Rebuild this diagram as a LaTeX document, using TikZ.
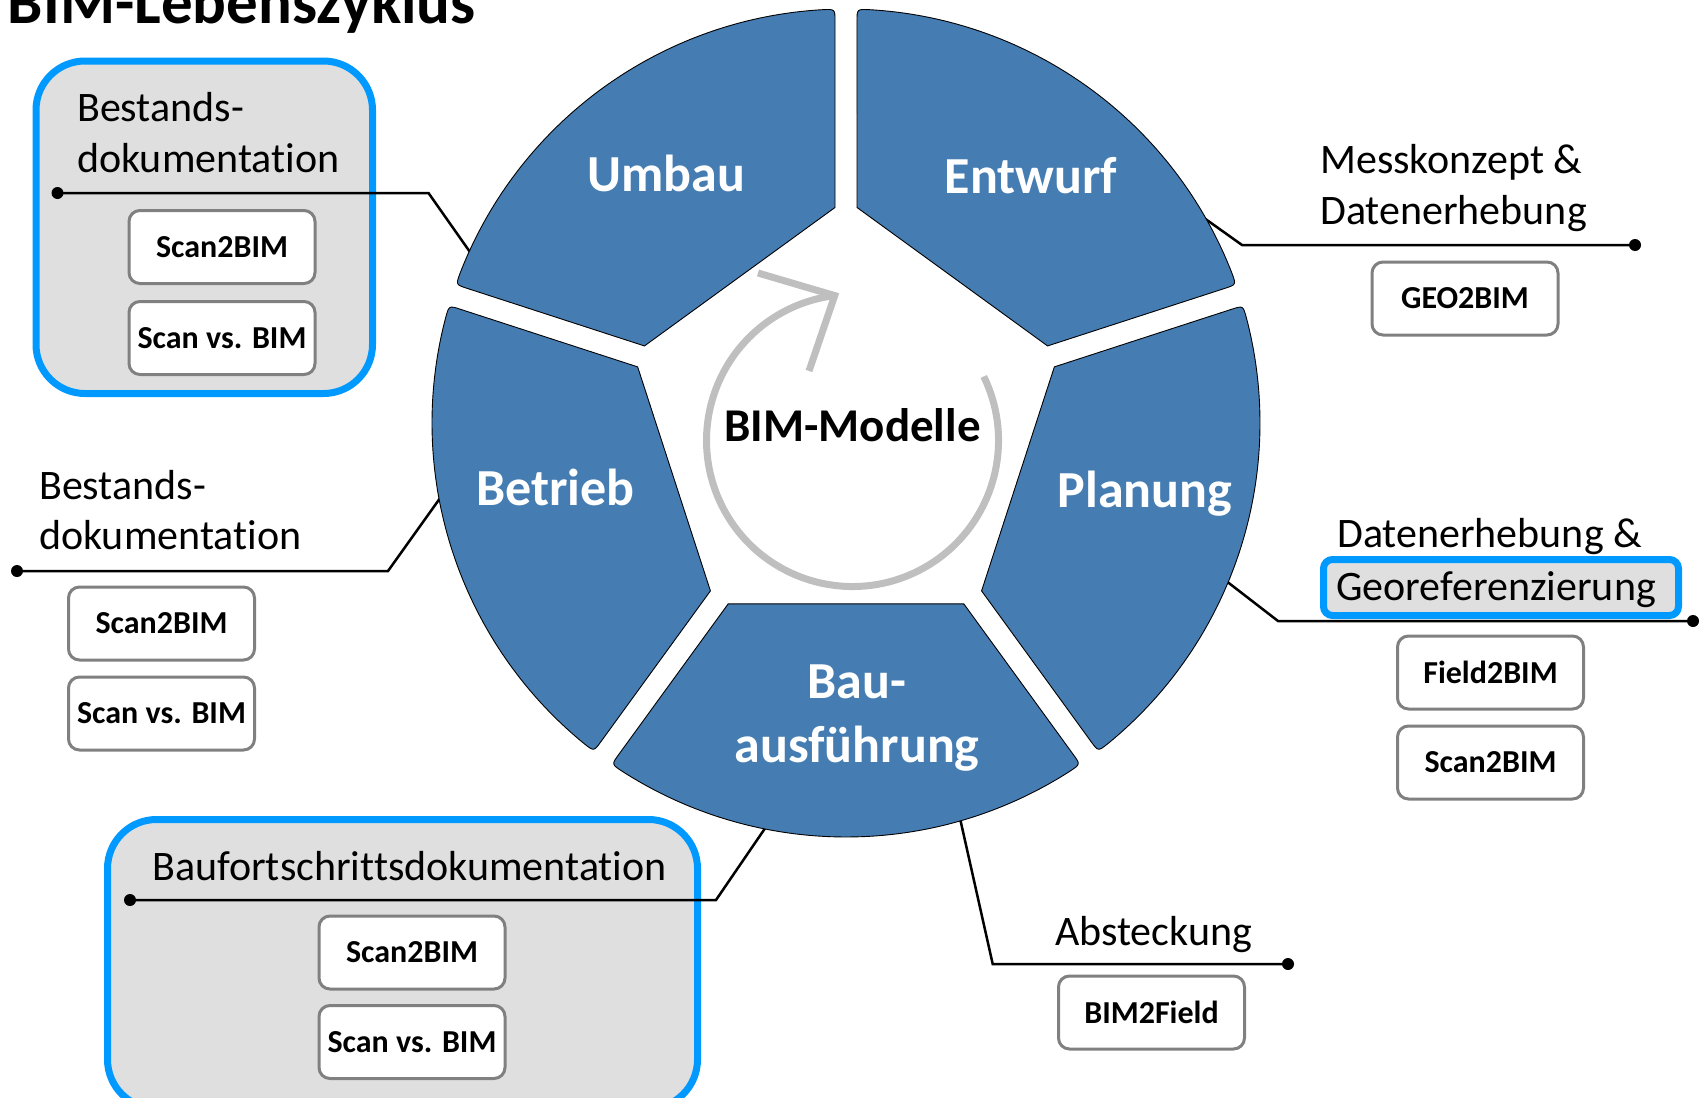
\documentclass[tikz,border=0pt]{standalone}
\usepackage{fontspec}
\setmainfont{Carlito}[Ligatures=NoCommon]
\usetikzlibrary{calc}

\definecolor{segblue}{RGB}{69,125,179}
\definecolor{grpblue}{RGB}{0,153,255}
\definecolor{grpgray}{RGB}{223,223,223}
\definecolor{toolgray}{RGB}{128,128,128}
\definecolor{cyclegray}{RGB}{191,191,191}

% one ring segment between the pentagon corners at angles #1 and #2
\newcommand\wheelpart[3]{%
  \coordinate (#3-va) at ($(C)+(#1:\wRin)$);
  \coordinate (#3-vb) at ($(C)+(#2:\wRin)$);
  \coordinate (#3-p1) at ($(#3-va)!13.6pt!(#3-vb)$);
  \coordinate (#3-p4) at ($(#3-vb)!13.6pt!(#3-va)$);
  \coordinate (#3-p2) at ($(C)+({#1+\wDl}:\wRout)$);
  \coordinate (#3-p3) at ($(C)+({#2-\wDl}:\wRout)$);
  \coordinate (#3-q1) at ($(#3-p2)!12pt!(#3-p1)$);
  \coordinate (#3-q2) at ($(C)+({#1+\wDl+\wEp}:\wRout)$);
  \coordinate (#3-q4) at ($(#3-p3)!12pt!(#3-p4)$);
  \draw[seg] (#3-p1) -- (#3-q1) .. controls (#3-p2) .. (#3-q2)
    arc[start angle={#1+\wDl+\wEp}, end angle={#2-\wDl-\wEp}, radius=\wRout]
    .. controls (#3-p3) .. (#3-q4) -- (#3-p4) -- cycle;
}

\tikzset{
  seg/.style={fill=segblue, draw=black, line width=0.9pt},
  seglabel/.style={text=white, font=\bfseries\fontsize{52}{62}\selectfont, anchor=base, inner sep=0pt},
  centerlbl/.style={text=black, font=\bfseries\fontsize{47}{56}\selectfont, anchor=base, inner sep=0pt},
  titlelbl/.style={font=\bfseries\fontsize{63}{76}\selectfont, anchor=base west, inner sep=0pt},
  lbl/.style={font=\fontsize{42}{51}\selectfont, anchor=base west, inner sep=0pt},
  tool/.style={draw=toolgray, line width=3pt, fill=white, rounded corners=11pt,
    minimum width=186pt, minimum height=73pt, inner sep=0pt,
    font=\bfseries\fontsize{32}{38}\selectfont},
  group/.style={draw=grpblue, line width=7pt, fill=grpgray, rounded corners=49pt},
  georef/.style={draw=grpblue, line width=7pt, fill=grpgray, rounded corners=9pt},
  conn/.style={line width=2.5pt, black},
  dot/.style={circle, fill=black, inner sep=0pt, minimum size=12pt},
  cyc/.style={draw=cyclegray, line width=7pt},
}

\begin{document}
\begin{tikzpicture}[x=1pt, y=1pt]
\useasboundingbox (0,0) rectangle (1701,-1098);
\clip (0,0) rectangle (1701,-1098);

% wheel geometry
\def\wRin{223.5}
\def\wRout{414}
\def\wDl{1.52}
\def\wEp{1.66}
\coordinate (C) at (846,-423);

% grouped documentation fields
\draw[group] (36,-61) rectangle (372.5,-393.5);
\draw[group] (107.5,-819.5) rectangle (697.5,-1108.5);
\draw[georef] (1323.5,-559.5) rectangle (1678.5,-615.5);

% end dots, bends and attachment points of the leader lines
\node[dot] (dTL) at (57.5,-193) {};
\coordinate (bTL) at (428.5,-193);
\coordinate (aTL) at ($(C)+(155.8:410)$);

\node[dot] (dLM) at (17,-571) {};
\coordinate (bLM) at (388,-571);
\coordinate (aLM) at ($(C)+(190.1:410)$);

\node[dot] (dBL) at (130,-900) {};
\coordinate (bBL) at (716,-900);
\coordinate (aBL) at ($(C)+(258.9:410)$);

\node[dot] (dTR) at (1635,-245) {};
\coordinate (bTR) at (1242,-245);
\coordinate (aTR) at ($(C)+(30.6:410)$);

\node[dot] (dRM) at (1693,-621) {};
\coordinate (bRM) at (1278,-621);
\coordinate (aRM) at ($(C)+(-22.5:410)$);

\node[dot] (dBR) at (1288,-964) {};
\coordinate (bBR) at (992.7,-964);
\coordinate (aBR) at ($(C)+(-73.9:410)$);

\draw[conn] (dTL.center) -- (bTL) -- (aTL);
\draw[conn] (dLM.center) -- (bLM) -- (aLM);
\draw[conn] (dBL.center) -- (bBL) -- (aBL);
\draw[conn] (dTR.center) -- (bTR) -- (aTR);
\draw[conn] (dRM.center) -- (bRM) -- (aRM);
\draw[conn] (dBR.center) -- (bBR) -- (aBR);

% circular arrow in the middle
\coordinate (cc) at (852.5,-440.5);
\coordinate (cycStart) at ($(cc)+(26:146)$);
\coordinate (cycTip) at ($(cc)+(97:146)$);
\coordinate (cycArmA) at (758,-273);
\coordinate (cycArmB) at (809,-371);
\draw[cyc] (cycStart) arc[start angle=26, end angle=-263, radius=146];
\draw[cyc, line join=miter] (cycArmA) -- (cycTip) -- (cycArmB);

% ring segments
\wheelpart{18}{90}{entwurf}
\wheelpart{90}{162}{umbau}
\wheelpart{162}{234}{betrieb}
\wheelpart{234}{306}{bau}
\wheelpart{-54}{18}{planung}

\node[seglabel] (lUmbau) at (666.5,-191) {Umbau};
\node[seglabel] (lEntwurf) at (1031,-193) {Entwurf};
\node[seglabel] (lBetrieb) at (555.5,-505) {Betrieb};
\node[seglabel] (lPlanung) at (1145,-507) {Planung};
\node[seglabel] (lBau1) at (857,-698) {Bau-};
\node[seglabel] (lBau2) at (857,-762) {ausführung};
\node[centerlbl] (lBIM) at (852.5,-441) {BIM-Modelle};

% title
\node[titlelbl] (title) at (7.7,-23) {BIM-Lebenszyklus};

% field labels
\node[lbl] (tl1) at (77,-121) {Bestands-};
\node[lbl] (tl2) at (77,-172) {dokumentation};
\node[lbl] (lm1) at (39,-499) {Bestands-};
\node[lbl] (lm2) at (39,-549.5) {dokumentation};
\node[lbl] (bl1) at (152,-880) {Baufortschrittsdokumentation};
\node[lbl] (tr1) at (1320,-173) {Messkonzept \&};
\node[lbl] (tr2) at (1320,-224.5) {Datenerhebung};
\node[lbl] (rm1) at (1337,-547) {Datenerhebung \&};
\node[lbl] (rm2) at (1336,-600) {Georeferenzierung};
\node[lbl] (br1) at (1055,-945) {Absteckung};

% method boxes
\node[tool] (tlA) at (222,-247) {Scan2BIM};
\node[tool] (tlB) at (222,-338) {Scan vs. BIM};
\node[tool] (lmA) at (161.5,-623.5) {Scan2BIM};
\node[tool] (lmB) at (161.5,-713.5) {Scan vs. BIM};
\node[tool] (blA) at (412,-952.5) {Scan2BIM};
\node[tool] (blB) at (412,-1042) {Scan vs. BIM};
\node[tool] (trA) at (1465,-298.5) {GEO2BIM};
\node[tool] (rmA) at (1490.5,-672.5) {Field2BIM};
\node[tool] (rmB) at (1490.5,-762.5) {Scan2BIM};
\node[tool] (brA) at (1151.5,-1012.5) {BIM2Field};
\end{tikzpicture}
\end{document}
